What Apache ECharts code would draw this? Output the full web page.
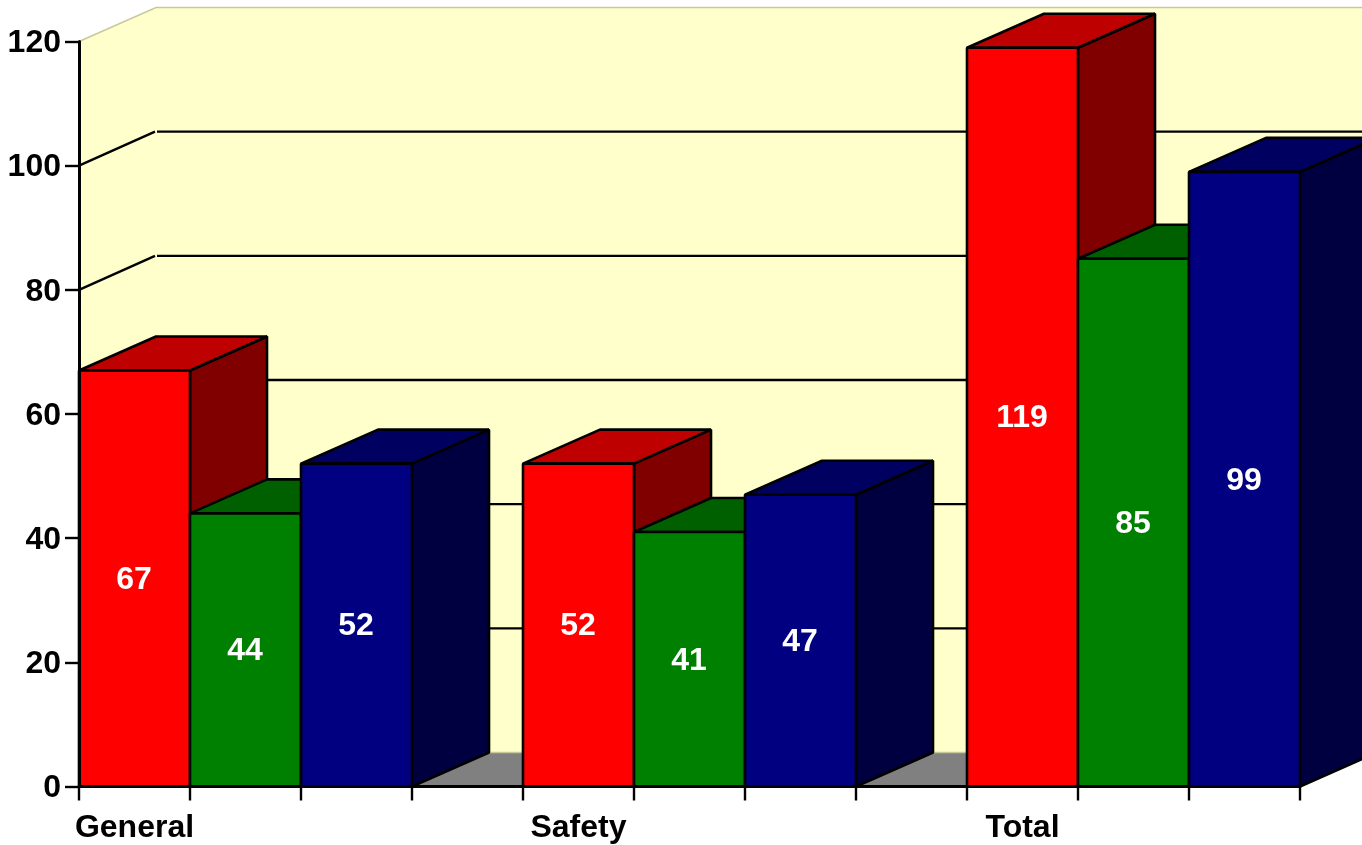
<!DOCTYPE html>
<html>
<head>
<meta charset="utf-8">
<style>html,body{margin:0;padding:0;background:#fff}#c{width:1362px;height:845px}</style>
<script src="https://cdn.jsdelivr.net/npm/echarts@6/dist/echarts.min.js"></script>
</head>
<body>
<div id="c"></div>
<script>
var slotLabels = ['General','','','','Safety','','','','Total','',''];
var redValues = [67,52,119];
var greenValues = [44,41,85];
var blueValues = [52,47,99];
var redColors = ['#FF0000','#BF0000','#800000'];
var greenColors = ['#008000','#006000','#004000'];
var blueColors = ['#000080','#000060','#000040'];
var gridValues = [20,40,60,80,100];
var DX = 77, DY = 34;
var FONT = 'bold 32px "Liberation Sans", Arial, sans-serif';

function poly(pts, fill, stroke, w) {
  return {type:'polygon', shape:{points:pts}, style:{fill:fill, stroke:stroke||'#000', lineWidth:w===undefined?2.6:w, lineJoin:'bevel'}, silent:true};
}
function edgeLine(pts) {
  return {type:'polyline', shape:{points:pts}, style:{fill:null, stroke:'#C8C89A', lineWidth:1.5}, silent:true};
}
function wallItem(params, api) {
  var cs = params.coordSys;
  var l = cs.x, r = cs.x + cs.width, b = api.coord([0,0])[1], t = api.coord([0,120])[1];
  return {type:'group', children:[
    poly([[l,b],[l+DX,b-DY],[r+DX,b-DY],[r+DX,t-DY],[l+DX,t-DY],[l,t]], '#FFFFCC', 'none', 0),
    poly([[l,b],[r,b],[r+DX,b-DY],[l+DX,b-DY]], '#808080', 'none', 0),
    edgeLine([[l,t],[l+DX,t-DY],[r+DX,t-DY]]),
    edgeLine([[l+DX,b-DY],[r+DX,b-DY]])
  ]};
}
function gridSideItem(params, api) {
  var cs = params.coordSys;
  var l = cs.x, y = api.coord([0, api.value(0)])[1];
  return {type:'polyline', shape:{points:[[l,y],[l+DX-1,y-DY]]}, style:{fill:null, stroke:'#000', lineWidth:2.4}, silent:true};
}
function gridBackItem(params, api) {
  var cs = params.coordSys;
  var l = cs.x, r = cs.x + cs.width, y = api.coord([0, api.value(0)])[1];
  return {type:'polyline', shape:{points:[[l+DX+1,y-DY],[r+DX,y-DY]]}, style:{fill:null, stroke:'#000', lineWidth:2.4}, silent:true};
}
function barRenderer(colors) {
  return function (params, api) {
    var i = api.value(0), v = api.value(1);
    var c = api.coord([i, v]), w = api.size([1,0])[0];
    var x0 = c[0] - w/2, x1 = c[0] + w/2, yt = c[1], yb = api.coord([i, 0])[1];
    return {type:'group', children:[
      poly([[x1,yb],[x1+DX,yb-DY],[x1+DX,yt-DY],[x1,yt]], colors[2]),
      poly([[x0,yt],[x1,yt],[x1+DX,yt-DY],[x0+DX,yt-DY]], colors[1]),
      poly([[x0,yb],[x1,yb],[x1,yt],[x0,yt]], colors[0]),
      {type:'text', x:c[0]-0.5, y:(yt+yb)/2+1.5, silent:true,
       style:{text:String(v), fill:'#fff', font:FONT, align:'center', verticalAlign:'middle'}}
    ]};
  };
}
function barSeries(name, values, offset, colors) {
  return {type:'custom', name:name,
    data:values.map(function (v, g) { return [g*4 + offset, v]; }),
    encode:{x:0,y:1}, renderItem:barRenderer(colors), animation:false, clip:false, z:5};
}
var chart = echarts.init(document.getElementById('c'), null, {renderer:'canvas'});
chart.setOption({
  animation:false,
  backgroundColor:'#fff',
  grid:{left:79, right:62, top:41.5, bottom:58.5, containLabel:false},
  xAxis:{type:'category', data:slotLabels, z:10,
    axisLine:{lineStyle:{color:'#000',width:3}},
    axisTick:{show:true, alignWithLabel:false, interval:0, length:14, lineStyle:{color:'#000',width:2.4}},
    axisLabel:{interval:0, color:'#000', fontFamily:'Liberation Sans', fontWeight:'bold', fontSize:32, margin:26},
    splitLine:{show:false}},
  yAxis:{type:'value', min:0, max:120, interval:20, z:10,
    axisLine:{show:true, lineStyle:{color:'#000',width:3}},
    axisTick:{show:true, length:14, lineStyle:{color:'#000',width:2.4}},
    axisLabel:{color:'#000', fontFamily:'Liberation Sans', fontWeight:'bold', fontSize:32, margin:18, verticalAlign:'top', lineHeight:4},
    splitLine:{show:false}},
  series:[
    {type:'custom', name:'wall', data:[[0,0]], encode:{x:0,y:1}, renderItem:wallItem, clip:false, z:1, silent:true},
    {type:'custom', name:'gridSide', data:gridValues.map(function(v){return [v];}), encode:{y:0}, renderItem:gridSideItem, clip:false, z:2, silent:true},
    {type:'custom', name:'gridBack', data:gridValues.map(function(v){return [v];}), encode:{y:0}, renderItem:gridBackItem, clip:false, z:2, silent:true},
    barSeries('Red', redValues, 0, redColors),
    barSeries('Green', greenValues, 1, greenColors),
    barSeries('Blue', blueValues, 2, blueColors)
  ]
});
</script>
</body>
</html>
